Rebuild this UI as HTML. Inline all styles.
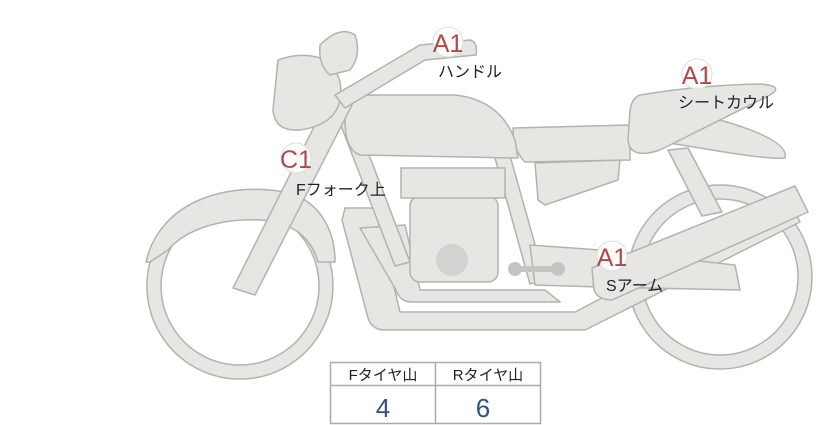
<!DOCTYPE html>
<html><head><meta charset="utf-8"><style>
html,body{margin:0;padding:0;background:#fff;width:822px;height:425px;overflow:hidden}
svg{display:block}
.p{fill:#e6e6e3;stroke:#b2b2ae;stroke-width:1.5;stroke-linejoin:round}
.t{font-family:"Liberation Sans","Noto Sans CJK JP",sans-serif}
</style></head><body>
<svg width="822" height="425" viewBox="0 0 822 425" xmlns="http://www.w3.org/2000/svg">
<!-- rear wheel -->
<path class="p" fill-rule="evenodd" d="M720,185 a92,92 0 1,1 -0.1,0 Z M720,199 a78,78 0 1,0 0.1,0 Z"/>
<!-- front wheel -->
<path class="p" fill-rule="evenodd" d="M240,193 a93,93 0 1,1 -0.1,0 Z M240,207 a79,79 0 1,0 0.1,0 Z"/>
<!-- front fender -->
<path class="p" d="M146,262 C160,200 230,180 290,193 C320,203 335,230 335,262 L318,262 C312,240 295,222 260,220 C220,218 185,230 168,250 L150,262 Z"/>
<!-- shock -->
<path class="p" d="M668,150 L688,148 L722,212 L702,216 Z"/>
<!-- exhaust outer -->
<path class="p" d="M345,208 L375,208 L400,312 L575,312 L790,200 L800,222 L585,330 L385,330 Q372,330 368,318 L342,220 Z"/>
<!-- exhaust inner -->
<path class="p" d="M360,228 L405,225 L420,290 L545,290 L560,302 L412,302 Q400,302 396,290 Z"/>
<!-- frame tubes -->
<path class="p" d="M335,110 L350,105 L410,262 L395,266 Z"/>
<path class="p" d="M490,140 L505,138 L545,280 L530,284 Z"/>
<!-- swingarm -->
<path class="p" d="M530,245 L600,250 L735,265 L740,290 L600,287 L535,285 Z"/>
<!-- engine -->
<rect class="p" x="410" y="196" width="88" height="86" rx="10"/>
<rect class="p" x="401" y="168" width="104" height="30"/>
<circle cx="452" cy="260" r="16" fill="#d2d2d0"/>
<!-- footpeg -->
<rect x="516" y="266" width="42" height="6" fill="#c4c4c2"/>
<circle cx="515" cy="269" r="7" fill="#c4c4c2"/><circle cx="558" cy="269" r="7" fill="#c4c4c2"/>
<!-- muffler -->
<path class="p" d="M592,268 L795,186 L808,212 L612,300 Q598,300 594,290 Z"/>
<!-- side panel -->
<path class="p" d="M535,163 L620,160 L618,180 L545,205 L538,200 Z"/>
<!-- seat -->
<path class="p" d="M513,128 L630,125 L630,160 L525,162 Q513,150 513,128 Z"/>
<!-- tail -->
<path class="p" d="M650,140 L720,120 Q790,140 785,158 Q770,160 700,148 Z"/>
<!-- seat cowl -->
<path class="p" d="M640,95 Q700,85 760,84 Q785,86 770,95 L660,150 Q630,160 628,140 L630,110 Q632,98 640,95 Z"/>
<!-- tank -->
<path class="p" d="M350,95 L455,95 Q500,100 515,140 L518,158 L360,155 Q345,150 345,120 Z"/>
<!-- fork -->
<path class="p" d="M330,95 L352,105 L255,295 L233,288 Z"/>
<!-- headlight -->
<path class="p" d="M278,60 Q300,52 320,58 Q345,70 340,100 Q335,125 300,130 Q275,132 273,110 Z"/>
<!-- mirror -->
<path class="p" d="M320,45 Q340,25 355,35 Q362,55 350,70 L330,75 Q318,65 320,45 Z"/>
<!-- handlebar -->
<path class="p" d="M335,95 L420,45 L470,40 Q478,42 476,55 L425,60 L345,108 Z"/>

<!-- markers -->
<g class="t">
<circle cx="448" cy="42" r="15" fill="#fff" fill-opacity="0.85" stroke="#ddd"/>
<text x="448" y="52" text-anchor="middle" font-size="25" fill="#b44848">A1</text>
<text x="438" y="77" font-size="16" fill="#222">ハンドル</text>
<circle cx="697" cy="74" r="15" fill="#fff" fill-opacity="0.85" stroke="#ddd"/>
<text x="697" y="84" text-anchor="middle" font-size="25" fill="#b44848">A1</text>
<text x="678" y="108" font-size="16" fill="#222">シートカウル</text>
<circle cx="296" cy="158" r="15" fill="#fff" fill-opacity="0.85" stroke="#ddd"/>
<text x="296" y="168" text-anchor="middle" font-size="25" fill="#b44848">C1</text>
<text x="296" y="195" font-size="16" fill="#222">Fフォーク上</text>
<circle cx="612" cy="256" r="15" fill="#fff" fill-opacity="0.85" stroke="#ddd"/>
<text x="612" y="266" text-anchor="middle" font-size="25" fill="#b44848">A1</text>
<text x="606" y="291" font-size="16" fill="#222">Sアーム</text>
</g>

<!-- table -->
<rect x="330.5" y="362.5" width="210" height="61" fill="#fff" stroke="#aaa" stroke-width="1.5"/>
<line x1="330" y1="385.5" x2="540" y2="385.5" stroke="#aaa" stroke-width="1.5"/>
<line x1="435.5" y1="362" x2="435.5" y2="424" stroke="#aaa" stroke-width="1.5"/>
<g class="t">
<text x="383" y="380" text-anchor="middle" font-size="15" fill="#222">Fタイヤ山</text>
<text x="488" y="380" text-anchor="middle" font-size="15" fill="#222">Rタイヤ山</text>
<text x="383" y="417" text-anchor="middle" font-size="26" fill="#34508a">4</text>
<text x="483" y="417" text-anchor="middle" font-size="26" fill="#34508a">6</text>
</g>
</svg>
</body></html>
